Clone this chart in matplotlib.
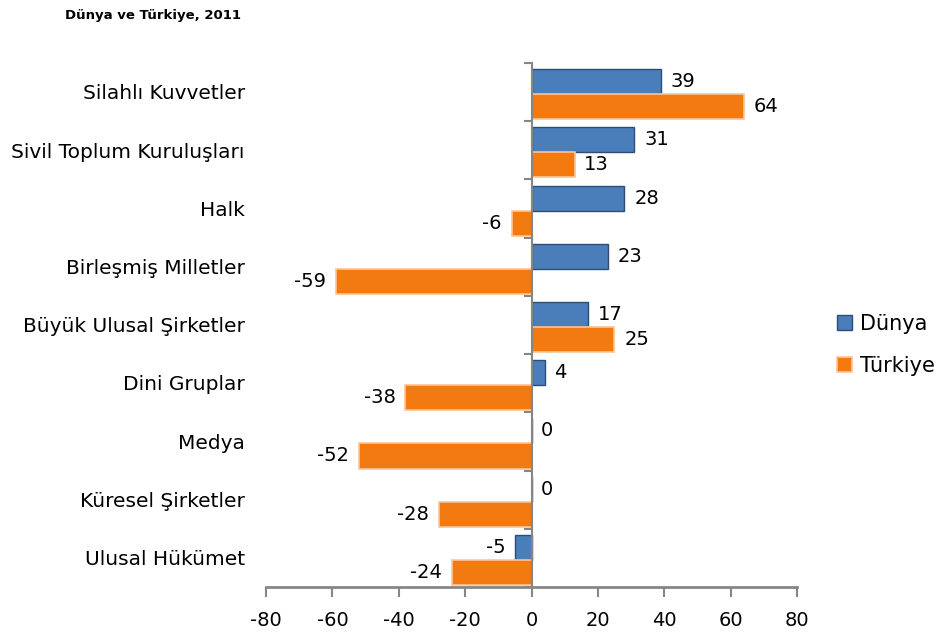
import matplotlib
matplotlib.use("Agg")
import matplotlib.pyplot as plt
from matplotlib.patches import Patch
from matplotlib.transforms import blended_transform_factory

categories = ["Silahlı Kuvvetler", "Sivil Toplum Kuruluşları", "Halk", "Birleşmiş Milletler",
              "Büyük Ulusal Şirketler", "Dini Gruplar", "Medya", "Küresel Şirketler", "Ulusal Hükümet"]
dunya = [39, 31, 28, 23, 17, 4, 0, 0, -5]
turkiye = [64, 13, -6, -59, 25, -38, -52, -28, -24]
series_names = ["Dünya", "Türkiye"]
xticks = [-80, -60, -40, -20, 0, 20, 40, 60, 80]
title = "Dünya ve Türkiye, 2011"

blue = "#4A7EBB"
blue_edge = "#2C4D75"
orange = "#F27A10"
orange_edge = "#FBC59A"
gray = "#868686"

fig = plt.figure(figsize=(9.36, 6.35), dpi=100)
ax = fig.add_axes([266/936, 1-587/635, (797-266)/936, (587-63)/635])

h = 0.43
shift = 0.035
pos = list(range(len(categories)))
ax.barh([p - h/2 + shift for p in pos], dunya, height=h, color=blue, edgecolor=blue_edge, linewidth=1.0, zorder=2)
ax.barh([p + h/2 + shift for p in pos], turkiye, height=h, color=orange, edgecolor=orange_edge, linewidth=1.2, zorder=2)

ax.set_xlim(-80, 80)
ax.set_ylim(len(categories) - 0.5, -0.5)
ax.set_xticks(xticks)
ax.set_xticklabels([str(v) for v in xticks])

for s in ["top", "right"]:
    ax.spines[s].set_visible(False)
ax.spines["left"].set_position(("data", 0))
ax.spines["left"].set_color(gray)
ax.spines["left"].set_linewidth(1.5)
ax.spines["left"].set_zorder(3)
ax.spines["bottom"].set_color(gray)
ax.spines["bottom"].set_linewidth(2)

ax.set_yticks(pos)
ax.set_yticklabels([])
ax.tick_params(axis="y", which="major", length=0)
ax.set_yticks([p - 0.5 for p in range(len(categories) + 1)], minor=True)
ax.tick_params(axis="y", which="minor", length=6, width=1.5, color=gray, direction="out")
ax.tick_params(axis="x", length=7.5, width=1.5, color=gray, labelsize=14, pad=10)

trans = blended_transform_factory(ax.transAxes, ax.transData)
for p, c in zip(pos, categories):
    ax.text(-0.04, p + 0.03, c, transform=trans, ha="right", va="center", fontsize=14.5)

def lab(yp, v):
    if v >= 0:
        ax.annotate(str(v), (v, yp), xytext=(7, 0), textcoords="offset points",
                    ha="left", va="center", fontsize=14)
    else:
        ax.annotate(str(v), (v, yp), xytext=(-7, 0), textcoords="offset points",
                    ha="right", va="center", fontsize=14)

for p, v in zip(pos, dunya):
    lab(p - h/2 + shift, v)
for p, v in zip(pos, turkiye):
    lab(p + h/2 + shift, v)

handles = [Patch(facecolor=blue, edgecolor=blue_edge, linewidth=1.0),
           Patch(facecolor=orange, edgecolor=orange_edge, linewidth=1.2)]
fig.legend(handles, series_names, loc="center left", bbox_to_anchor=(837/936, 1-345/635),
           frameon=False, fontsize=15, labelspacing=1.05, handlelength=0.7, handleheight=0.7,
           handletextpad=0.4, borderaxespad=0, borderpad=0)

fig.text(65/936, 1-15/635, title, ha="left", va="center", fontsize=9.5, fontweight="bold")

fig.savefig("out.png", dpi=100)
